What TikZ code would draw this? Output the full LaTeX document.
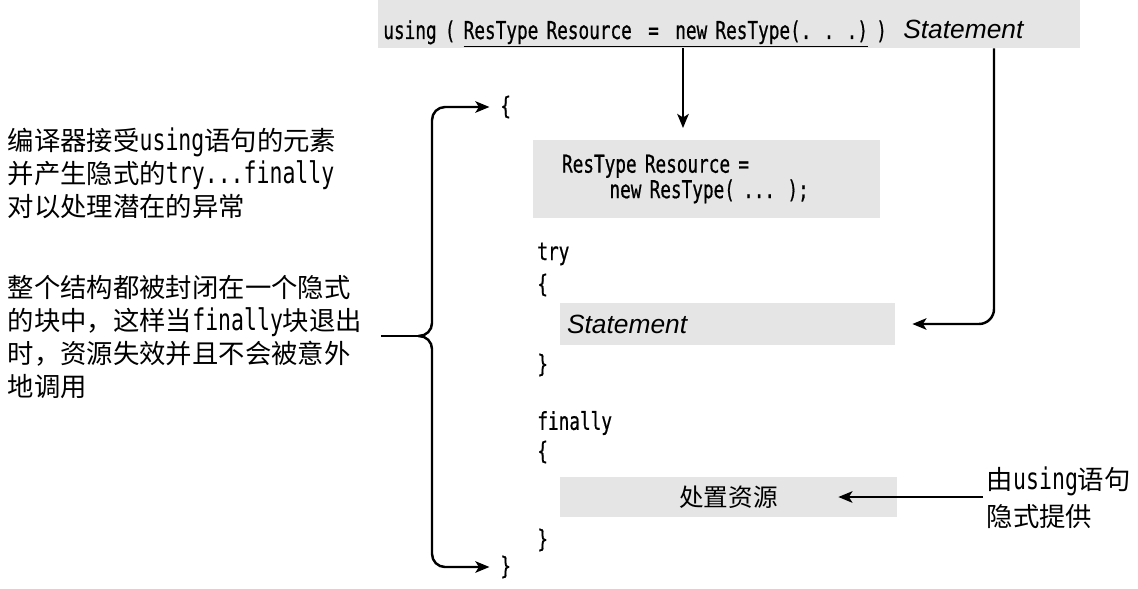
\documentclass[tikz,border=0pt]{standalone}
\usepackage{fontspec}
\setmainfont{Liberation Sans}
\setsansfont{Liberation Sans}
\setmonofont{DejaVu Sans Mono}[FakeStretch=0.72, FakeBold=0.6]
\newfontfamily\cjk{Noto Sans CJK SC}
\newfontfamily\hwfont{DejaVu Sans Mono}[FakeStretch=0.72]
\newcommand{\hw}[1]{{\fontsize{17}{18.8}\hwfont #1}}
\newcommand{\stmt}[1]{{\fontsize{15}{18}\sffamily\itshape #1}}
\usetikzlibrary{arrows.meta, calc}
\tikzset{
    shadebox/.style={rectangle, fill=gray!20, inner ysep=0pt, font=\fontsize{14}{14.5}\selectfont\ttfamily},
    codetxt/.style={anchor=west, inner sep=0pt, font=\fontsize{14}{14.5}\selectfont\ttfamily},
    cjklbl/.style={anchor=west, align=left, inner sep=2pt, font=\cjk\fontsize{15}{18.8}\selectfont},
    arr/.style={-{Stealth[length=8pt, width=6.5pt, inset=2pt]}, line width=1.4pt},
    plain/.style={line width=1.4pt}
}
\begin{document}
\begin{tikzpicture}[x=0.02cm, y=-0.02cm]
            \useasboundingbox (0,0) rectangle (1138,588);
            \node[shadebox, anchor=west, minimum width=14.04cm, minimum height=0.96cm, text width=13.84cm, text height=0.66cm, text depth=0.06cm, inner xsep=0.1cm, align=left] (usingbox) at (378,24) {using ( \underline{ResType Resource\ \ =\ \ new ResType(. . .)}\ ) \ \stmt{Statement}};
            \node[shadebox, minimum width=6.94cm, minimum height=1.56cm, text width=5.78cm, inner xsep=0.58cm, align=left] (resbox) at (706.5,179) {ResType Resource =\\\hspace*{27pt}new ResType( ... );};
            \node[shadebox, minimum width=6.7cm, minimum height=0.84cm, text width=6.42cm, inner xsep=0.14cm, align=left] (stmtbox) at (727.5,324) {\stmt{Statement}};
            \node[shadebox, minimum width=6.74cm, minimum height=0.8cm, font=\cjk\fontsize{14}{16}\selectfont] (dispbox) at (728.5,497) {处置资源};
            \node[codetxt] (openbrace) at (500,107) {\{};
            \node[codetxt] (trykw) at (537,254) {try};
            \node[codetxt] (tryopen) at (537,285) {\{};
            \node[codetxt] (tryclose) at (537,365) {\}};
            \node[codetxt] (finkw) at (537,423) {finally};
            \node[codetxt] (finopen) at (537,452) {\{};
            \node[codetxt] (finclose) at (537,540) {\}};
            \node[codetxt] (closebrace) at (500,567) {\}};
            \node[cjklbl] (leftone) at (4,173) {编译器接受\hw{using}语句的元素\\并产生隐式的\hw{try...finally}\\对以处理潜在的异常};
            \node[cjklbl] (lefttwo) at (4,337) {整个结构都被封闭在一个隐式\\的块中，这样当\hw{finally}块退出\\时，资源失效并且不会被意外\\地调用};
            \node[cjklbl, font=\cjk\fontsize{15}{21}\selectfont] (rightlbl) at (983,498) {由\hw{using}语句\\隐式提供};
            \coordinate (cusp) at (418,336);
            \coordinate (bracex) at (432,336);
            \coordinate (resarrow) at (683,140);
            \coordinate (stmtturn) at (994,322);
            \draw[plain, shorten <=0.3cm] (lefttwo.east |- cusp) -- (cusp);
            \draw[arr, rounded corners=0.26cm, shorten >=6pt] (cusp) -| (bracex |- openbrace.west) -- (openbrace.west);
            \draw[arr, rounded corners=0.26cm, shorten >=6pt] (cusp) -| (bracex |- closebrace.west) -- (closebrace.west);
            \draw[arr, shorten >=6.8pt] (usingbox.south -| resarrow) -- (resarrow);
            \draw[arr, rounded corners=0.3cm, shorten >=9.7pt] (usingbox.south -| stmtturn) |- (stmtbox.east);
            \draw[arr, shorten >=-1.18cm] (rightlbl.west |- dispbox.east) -- (dispbox.east);
\end{tikzpicture}
\end{document}
